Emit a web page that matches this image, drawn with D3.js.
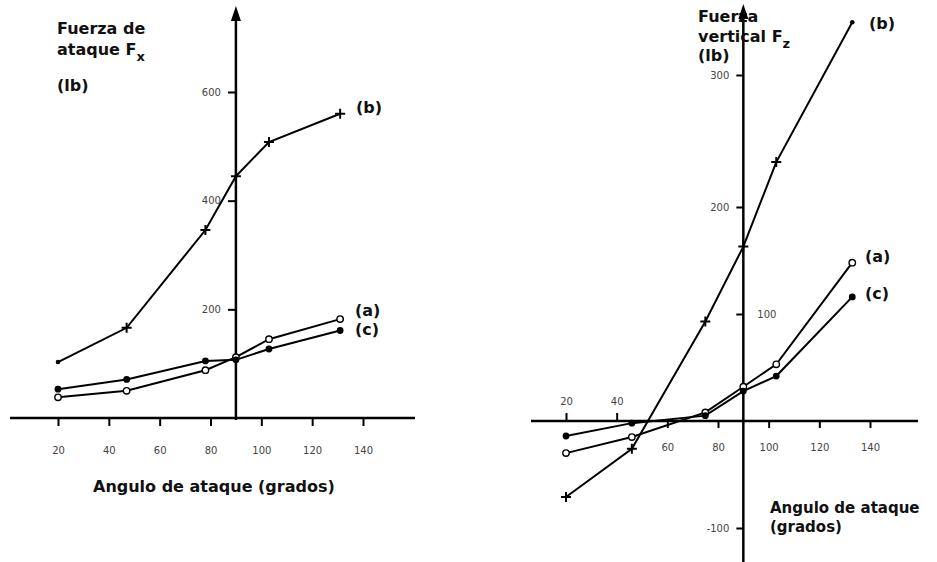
<!DOCTYPE html>
<html>
<head>
<meta charset="utf-8">
<script src="https://cdn.jsdelivr.net/npm/d3@7"></script>
<style>
  body { margin: 0; background: #fff; }
  text { font-family: "DejaVu Sans", sans-serif; }
  .lab { font-weight: bold; font-size: 16px; fill: #111; }
  .tick text { font-size: 10px; fill: #444; }
</style>
</head>
<body>
<div id="chart"></div>
<script>
// angles (grados) where each series was measured
const leftAngles = [20, 47, 78, 90, 103, 131];
const rightAngles = [20, 46, 75, 90, 103, 133];

// Fuerza de ataque Fx (lb)
const leftB = [103, 166, 346, 445, 508, 560];
const leftA = [38, 50, 88, 112, 145, 182];
const leftC = [53, 71, 105, 107, 127, 161];

// Fuerza vertical Fz (lb)
const rightB = [-71, -26, 93, 163, 234, 340];
const rightA = [-30, -15, 8, 32, 53, 148];
const rightC = [-14, -2, 5, 28, 42, 116];

// marker kind of each (b) point
const leftBMarks = ['dot', 'plus', 'plus', 'plus', 'plus', 'plus'];
const rightBMarks = ['plus', 'plus', 'plus', 'plus', 'plus', 'dot'];

const xTicks = [20, 40, 60, 80, 100, 120, 140];
const rightTopTicks = [20, 40];
const rightBottomTicks = [60, 80, 100, 120, 140];
const leftYTicks = [200, 400, 600];
const rightYTicks = [-100, 100, 200, 300];
const rightYLabels = ['-100', '100', '200', '300'];

const width = 937, height = 562;

const svg = d3.select('#chart')
    .append('svg')
    .attr('width', width)
    .attr('height', height);

function styleAxis(g) {
    g.select('.domain').remove();
    g.selectAll('.tick line').attr('stroke', '#000').attr('stroke-width', 2);
    g.attr('font-family', null).attr('font-size', null);
}

function series(g, angles, values, x, y, marks, kind) {
    const line = d3.line()
        .x((d, i) => x(angles[i]))
        .y(d => y(d));
    g.append('path')
        .datum(values)
        .attr('d', line)
        .attr('fill', 'none')
        .attr('stroke', '#000')
        .attr('stroke-width', 2);
    values.forEach((v, i) => {
        const cx = x(angles[i]), cy = y(v);
        const m = marks ? marks[i] : kind;
        if (m === 'plus') {
            g.append('path')
                .attr('d', `M${cx - 5},${cy}H${cx + 5}M${cx},${cy - 5}V${cy + 5}`)
                .attr('stroke', '#000').attr('stroke-width', 2);
        } else if (m === 'dot') {
            g.append('circle').attr('cx', cx).attr('cy', cy).attr('r', 2.3).attr('fill', '#000');
        } else if (m === 'open') {
            g.append('circle').attr('cx', cx).attr('cy', cy).attr('r', 3.2)
                .attr('fill', '#fff').attr('stroke', '#000').attr('stroke-width', 1.4);
        } else {
            g.append('circle').attr('cx', cx).attr('cy', cy).attr('r', 3.4).attr('fill', '#000');
        }
    });
}

function arrow(x0, yTop) {
    svg.append('path')
        .attr('d', `M${x0},${yTop}L${x0 - 5},${yTop + 15}L${x0 + 5},${yTop + 15}Z`)
        .attr('fill', '#000');
}

// ---------- left chart ----------
const x1 = d3.scaleLinear().domain([20, 140]).range([58, 363]);
const y1 = d3.scaleLinear().domain([0, 600]).range([418, 92]);
const left = svg.append('g');

left.append('line')
    .attr('x1', 10).attr('x2', 415)
    .attr('y1', y1(0)).attr('y2', y1(0))
    .attr('stroke', '#000').attr('stroke-width', 2.5);
left.append('line')
    .attr('x1', x1(90)).attr('x2', x1(90))
    .attr('y1', 12).attr('y2', y1(0) + 2)
    .attr('stroke', '#000').attr('stroke-width', 2.5);
arrow(x1(90), 6);

left.append('g')
    .attr('transform', `translate(0,${y1(0)})`)
    .call(d3.axisBottom(x1).tickValues(xTicks).tickSize(8).tickPadding(21))
    .call(styleAxis);
left.append('g')
    .attr('transform', `translate(${x1(90)},0)`)
    .call(d3.axisLeft(y1).tickValues(leftYTicks).tickSize(8).tickPadding(7))
    .call(styleAxis);

series(left, leftAngles, leftB, x1, y1, leftBMarks);
series(left, leftAngles, leftA, x1, y1, null, 'open');
series(left, leftAngles, leftC, x1, y1, null, 'fill');

left.append('text').attr('class', 'lab').attr('x', 57).attr('y', 34).text('Fuerza de');
left.append('text').attr('class', 'lab').attr('x', 57).attr('y', 55)
    .text('ataque F')
    .append('tspan').attr('dy', 6).attr('font-size', 13).text('x');
left.append('text').attr('class', 'lab').attr('x', 57).attr('y', 91).text('(lb)');
left.append('text').attr('class', 'lab').attr('x', 356).attr('y', 113).text('(b)');
left.append('text').attr('class', 'lab').attr('x', 355).attr('y', 316).text('(a)');
left.append('text').attr('class', 'lab').attr('x', 355).attr('y', 335).text('(c)');
left.append('text').attr('class', 'lab').attr('x', 93).attr('y', 492).text('Angulo de ataque (grados)');

// ---------- right chart ----------
const x2 = d3.scaleLinear().domain([20, 140]).range([566, 870]);
const y2 = d3.scaleLinear().domain([-100, 0, 100, 200, 300]).range([528, 421, 314, 207, 75]);
const right = svg.append('g');

right.append('line')
    .attr('x1', 531).attr('x2', 918)
    .attr('y1', y2(0)).attr('y2', y2(0))
    .attr('stroke', '#000').attr('stroke-width', 2.5);
right.append('line')
    .attr('x1', x2(90)).attr('x2', x2(90))
    .attr('y1', 10).attr('y2', height)
    .attr('stroke', '#000').attr('stroke-width', 2.5);
arrow(x2(90), 4);

right.append('g')
    .attr('transform', `translate(0,${y2(0)})`)
    .call(d3.axisTop(x2).tickValues(rightTopTicks).tickSize(8).tickPadding(8))
    .call(styleAxis);
right.append('g')
    .attr('transform', `translate(0,${y2(0)})`)
    .call(d3.axisBottom(x2).tickValues(rightBottomTicks).tickSize(7).tickPadding(16))
    .call(styleAxis);
const ry = right.append('g')
    .attr('transform', `translate(${x2(90)},0)`)
    .call(d3.axisLeft(y2).tickValues(rightYTicks).tickSize(7).tickPadding(7)
        .tickFormat((d, i) => rightYLabels[i]))
    .call(styleAxis);
// the 100 label sits on the right of the axis
ry.selectAll('.tick').filter(d => d === 100).select('text')
    .attr('x', 14).attr('text-anchor', 'start');

series(right, rightAngles, rightB, x2, y2, rightBMarks);
series(right, rightAngles, rightA, x2, y2, null, 'open');
series(right, rightAngles, rightC, x2, y2, null, 'fill');

right.append('text').attr('class', 'lab').attr('x', 698).attr('y', 22).text('Fuerza');
right.append('text').attr('class', 'lab').attr('x', 698).attr('y', 42)
    .text('vertical F')
    .append('tspan').attr('dy', 6).attr('font-size', 13).text('z');
right.append('text').attr('class', 'lab').attr('x', 698).attr('y', 61).text('(lb)');
right.append('text').attr('class', 'lab').attr('x', 869).attr('y', 29).text('(b)');
right.append('text').attr('class', 'lab').attr('x', 865).attr('y', 262).text('(a)');
right.append('text').attr('class', 'lab').attr('x', 865).attr('y', 299).text('(c)');
right.append('text').attr('class', 'lab').attr('x', 770).attr('y', 513)
    .attr('font-size', 15).style('font-size', '15px').text('Angulo de ataque');
right.append('text').attr('class', 'lab').attr('x', 770).attr('y', 532)
    .style('font-size', '15px').text('(grados)');
</script>
</body>
</html>
